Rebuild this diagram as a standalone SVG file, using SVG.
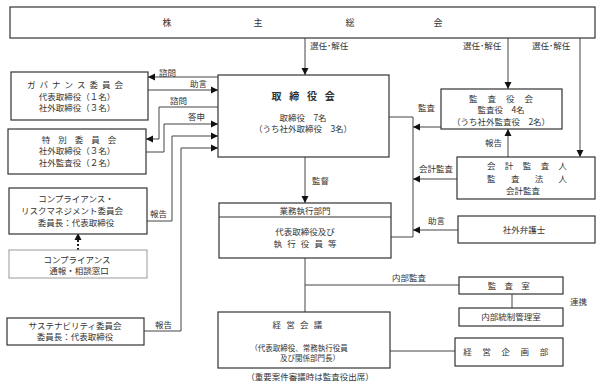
<svg xmlns="http://www.w3.org/2000/svg" width="602" height="386" viewBox="0 0 602 386">
<style>
text{font-family:"Noto Sans CJK JP","Noto Sans CJK SC",sans-serif;font-size:8.5px;fill:#333}
.c{text-anchor:middle}
.box{fill:#fff;stroke:#333;stroke-width:1.2}
.ln{fill:none;stroke:#444;stroke-width:1}
.ar{marker-end:url(#ah)}
</style>
<defs>
<marker id="ah" markerUnits="userSpaceOnUse" markerWidth="8" markerHeight="8" refX="7" refY="4" orient="auto"><path d="M0,0.5 L7,4 L0,7.5z" fill="#111"/></marker>
</defs>
<rect width="602" height="386" fill="#fff"/>
<g id="connectors">
<path class="ln ar" d="M305,38 V75"/>
<path class="ln ar" d="M508,38 V89"/>
<path class="ln ar" d="M580,38 V157"/>
<path class="ln ar" d="M218,77 H148"/>
<path class="ln ar" d="M148,90 H218"/>
<path class="ln ar" d="M218,107 H159 V139 H146"/>
<path class="ln ar" d="M146,152 H164 V124 H218"/>
<path class="ln ar" d="M147,221 H172 V136 H218"/>
<path class="ln ar" d="M144,331 H181 V148 H218"/>
<path d="M78,250 V236" fill="none" stroke="#222" stroke-width="2" stroke-dasharray="2,2"/>
<path d="M74.5,240 L78,233 L81.5,240z" fill="#111"/>
<path class="ln ar" d="M305,157 V203"/>
<path class="ln" d="M389,117 H413 V237 H391"/>
<path class="ln ar" d="M441,127 H413"/>
<path class="ln ar" d="M457,179 H413"/>
<path class="ln ar" d="M458,230 H413"/>
<path class="ln ar" d="M508,157 V129"/>
<path class="ln" d="M305,258 V312"/>
<path class="ln" d="M305,285 H459"/>
<path class="ln" d="M512,294 V308"/>
<path class="ln" d="M390,351 H455"/>
<text x="310" y="49">選任･解任</text>
<text x="463" y="49">選任･解任</text>
<text x="532" y="49">選任･解任</text>
<text x="159" y="76">諮問</text>
<text x="190" y="87">助言</text>
<text x="170" y="104">諮問</text>
<text x="188" y="120">答申</text>
<text x="150" y="217">報告</text>
<text x="155" y="328">報告</text>
<text x="312" y="184">監督</text>
<text x="418" y="111">監査</text>
<text x="419" y="172">会計監査</text>
<text x="428" y="224">助言</text>
<text x="485" y="146">報告</text>
<text x="392" y="281">内部監査</text>
<text x="570" y="305">連携</text>
</g>
<g id="shareholders">
<rect class="box" x="10" y="7" width="585" height="31"/>
<text class="c" x="167" y="26" style="font-size:9px">株</text>
<text class="c" x="258" y="26" style="font-size:9px">主</text>
<text class="c" x="350" y="26" style="font-size:9px">総</text>
<text class="c" x="438" y="26" style="font-size:9px">会</text>
</g>
<g id="board">
<rect class="box" x="218" y="75" width="171" height="82"/>
<text class="c" x="307" y="100" style="font-size:10px;font-weight:bold;letter-spacing:7.7px">取締役会</text>
<text class="c" x="303" y="121">取締役　7名</text>
<text class="c" x="303" y="132">（うち社外取締役　3名）</text>
</g>
<g id="governance">
<rect class="box" x="11" y="72" width="137" height="48"/>
<text class="c" x="77" y="88" style="letter-spacing:4px">ガバナンス委員会</text>
<text class="c" x="77" y="100">代表取締役（１名）</text>
<text class="c" x="77" y="111">社外取締役（３名）</text>
</g>
<g id="special">
<rect class="box" x="8" y="129" width="138" height="45"/>
<text class="c" x="83" y="143" style="letter-spacing:8px">特別委員会</text>
<text class="c" x="77" y="154">社外取締役（３名）</text>
<text class="c" x="77" y="166">社外監査役（２名）</text>
</g>
<g id="compliance">
<rect class="box" x="9" y="188" width="138" height="46"/>
<text class="c" x="76" y="202">コンプライアンス・</text>
<text class="c" x="72" y="214">リスクマネジメント委員会</text>
<text class="c" x="76" y="226">委員長：代表取締役</text>
</g>
<g id="hotline">
<rect x="9" y="250" width="138" height="28" fill="#fff" stroke="#999" stroke-width="1"/>
<text class="c" x="77" y="263">コンプライアンス</text>
<text class="c" x="79" y="274">通報・相談窓口</text>
</g>
<g id="sustainability">
<rect class="box" x="7" y="318" width="137" height="27"/>
<text class="c" x="75" y="329">サステナビリティ委員会</text>
<text class="c" x="75" y="340">委員長：代表取締役</text>
</g>
<g id="auditors">
<rect class="box" x="441" y="89" width="121" height="40"/>
<text class="c" x="506" y="102" style="letter-spacing:10px">監査役会</text>
<text class="c" x="501" y="113">監査役　4名</text>
<text class="c" x="501" y="125">（うち社外監査役　2名）</text>
</g>
<g id="accountant">
<rect class="box" x="457" y="157" width="138" height="42"/>
<text class="c" x="531.7" y="169" style="letter-spacing:9.4px">会計監査人</text>
<text class="c" x="534.7" y="182" style="letter-spacing:15.3px">監査法人</text>
<text class="c" x="523" y="194">会計監査</text>
</g>
<g id="lawyer">
<rect class="box" x="458" y="216" width="137" height="27"/>
<text class="c" x="524" y="233">社外弁護士</text>
</g>
<g id="exec">
<rect class="box" x="219" y="203" width="172" height="55"/>
<line x1="219" y1="217" x2="391" y2="217" stroke="#333" stroke-width="1.2"/>
<text class="c" x="305" y="214">業務執行部門</text>
<text class="c" x="305" y="235">代表取締役及び</text>
<text class="c" x="307.6" y="247" style="letter-spacing:5.1px">執行役員等</text>
</g>
<g id="audit-office">
<rect class="box" x="459" y="277" width="104" height="17"/>
<text class="c" x="513" y="289" style="letter-spacing:8.25px">監査室</text>
</g>
<g id="internal-control">
<rect class="box" x="459" y="308" width="104" height="18"/>
<text class="c" x="511" y="320">内部統制管理室</text>
</g>
<g id="mgmt-meeting">
<rect class="box" x="218" y="312" width="172" height="56"/>
<text class="c" x="300" y="328" style="letter-spacing:5.3px">経営会議</text>
<text class="c" x="299" y="351" style="font-size:7.5px">（代表取締役、常務執行役員</text>
<text class="c" x="310" y="361" style="font-size:7.5px">及び関係部門長）</text>
<text class="c" x="310" y="380">（重要案件審議時は監査役出席）</text>
</g>
<g id="planning">
<rect class="box" x="455" y="338" width="108" height="28"/>
<text class="c" x="511" y="355" style="letter-spacing:10.6px">経営企画部</text>
</g>
</svg>
